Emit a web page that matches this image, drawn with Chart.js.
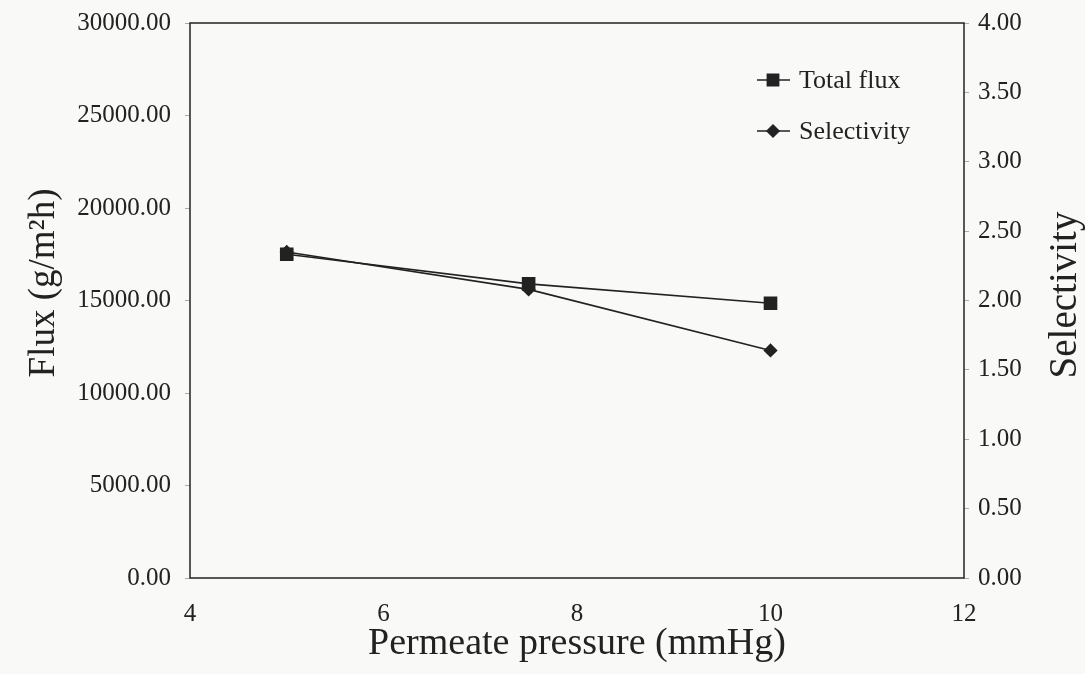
<!DOCTYPE html>
<html>
<head>
<meta charset="utf-8">
<title>Flux and selectivity vs permeate pressure</title>
<script src="https://cdn.jsdelivr.net/npm/chart.js@4"></script>
<style>
  html, body { margin: 0; padding: 0; background: #f9f9f7; }
  canvas { display: block; }
</style>
</head>
<body>
<canvas id="fluxChart" width="1085" height="674"></canvas>
<script>
// permeate pressure (mmHg)
const pressure = [5, 7.5, 10];
// total flux (g/m2h)
const totalFlux = [17500, 15900, 14850];
// selectivity (-)
const selectivity = [2.35, 2.08, 1.64];

const seriesNames = ["Total flux", "Selectivity"];
const xTitle = "Permeate pressure (mmHg)";
const yTitle = "Flux (g/m\u00B2h)";
const y1Title = "Selectivity";

const ink = "#222222";
const serif = "'Liberation Serif', 'Times New Roman', serif";

// box round the plot area
const frame = {
    id: "frame",
    afterDatasetsDraw(chart) {
        const { ctx, chartArea: a } = chart;
        ctx.save();
        ctx.strokeStyle = ink;
        ctx.lineWidth = 1.5;
        ctx.strokeRect(a.left, a.top, a.right - a.left, a.bottom - a.top);
        ctx.restore();
    }
};

// both y titles read bottom to top, drawn by hand
function sideTitle(ctx, text, x, y, size) {
    ctx.save();
    ctx.translate(x, y);
    ctx.rotate(-Math.PI / 2);
    ctx.font = size + "px " + serif;
    ctx.fillStyle = ink;
    ctx.textAlign = "center";
    ctx.textBaseline = "middle";
    ctx.fillText(text, 0, 0);
    ctx.restore();
}

const yTitles = {
    id: "yTitles",
    afterDraw(chart) {
        sideTitle(chart.ctx, yTitle, 44, 283, 37);
        sideTitle(chart.ctx, y1Title, 1066, 295, 39);
    }
};

// legend: short line with the marker in the middle, then the name
const lineLegend = {
    id: "lineLegend",
    afterDraw(chart) {
        const { ctx } = chart;
        const rows = [
            { name: seriesNames[0], y: 80, style: "rect", r: 8 },
            { name: seriesNames[1], y: 131, style: "rectRot", r: 6 }
        ];
        ctx.save();
        rows.forEach(row => {
            ctx.strokeStyle = ink;
            ctx.lineWidth = 1.5;
            ctx.beginPath();
            ctx.moveTo(757, row.y);
            ctx.lineTo(790, row.y);
            ctx.stroke();
            ctx.fillStyle = ink;
            Chart.helpers.drawPoint(ctx, { pointStyle: row.style, radius: row.r, borderWidth: 1 }, 773, row.y);
            ctx.fill();
            ctx.font = "26px " + serif;
            ctx.textAlign = "left";
            ctx.textBaseline = "middle";
            ctx.fillText(row.name, 799, row.y + 1);
        });
        ctx.restore();
    }
};

// keep the tick label overhang from pushing the plot area down
function fixWidth(w) {
    return axis => {
        axis.width = w;
        axis.paddingTop = 4;
        axis.paddingBottom = 4;
    };
}

const ctx = document.getElementById("fluxChart").getContext("2d");
new Chart(ctx, {
    type: "line",
    data: {
        datasets: [{
            label: seriesNames[1],
            data: pressure.map((p, i) => ({ x: p, y: selectivity[i] })),
            yAxisID: "y1",
            borderColor: ink,
            backgroundColor: ink,
            borderWidth: 1.6,
            pointStyle: "rectRot",
            pointRadius: 6,
            tension: 0
        }, {
            label: seriesNames[0],
            data: pressure.map((p, i) => ({ x: p, y: totalFlux[i] })),
            yAxisID: "y",
            borderColor: ink,
            backgroundColor: ink,
            borderWidth: 1.6,
            pointStyle: "rect",
            pointRadius: 8.5,
            tension: 0
        }]
    },
    options: {
        responsive: false,
        animation: false,
        layout: { padding: { top: 23, left: 0, right: 0, bottom: 0 } },
        plugins: {
            legend: { display: false },
            tooltip: { enabled: false }
        },
        scales: {
            x: {
                type: "linear",
                min: 4,
                max: 12,
                ticks: {
                    stepSize: 2,
                    padding: 21,
                    color: ink,
                    font: { family: serif, size: 25 }
                },
                grid: { display: false, drawTicks: false },
                border: { display: false },
                title: {
                    display: true,
                    text: xTitle,
                    color: ink,
                    font: { family: serif, size: 38 },
                    padding: { top: 0, bottom: 7 }
                },
                afterFit(axis) { axis.height = 96; }
            },
            y: {
                position: "left",
                min: 0,
                max: 30000,
                ticks: {
                    stepSize: 5000,
                    padding: 14,
                    color: ink,
                    font: { family: serif, size: 25 },
                    callback: v => v.toFixed(2)
                },
                grid: { drawOnChartArea: false, tickLength: 5, color: "#aaaaaa" },
                border: { display: false },
                afterFit: fixWidth(190)
            },
            y1: {
                position: "right",
                min: 0,
                max: 4,
                ticks: {
                    stepSize: 0.5,
                    padding: 9,
                    color: ink,
                    font: { family: serif, size: 25 },
                    callback: v => v.toFixed(2)
                },
                grid: { drawOnChartArea: false, tickLength: 5, color: "#aaaaaa" },
                border: { display: false },
                afterFit: fixWidth(121)
            }
        }
    },
    plugins: [frame, yTitles, lineLegend]
});
</script>
</body>
</html>
